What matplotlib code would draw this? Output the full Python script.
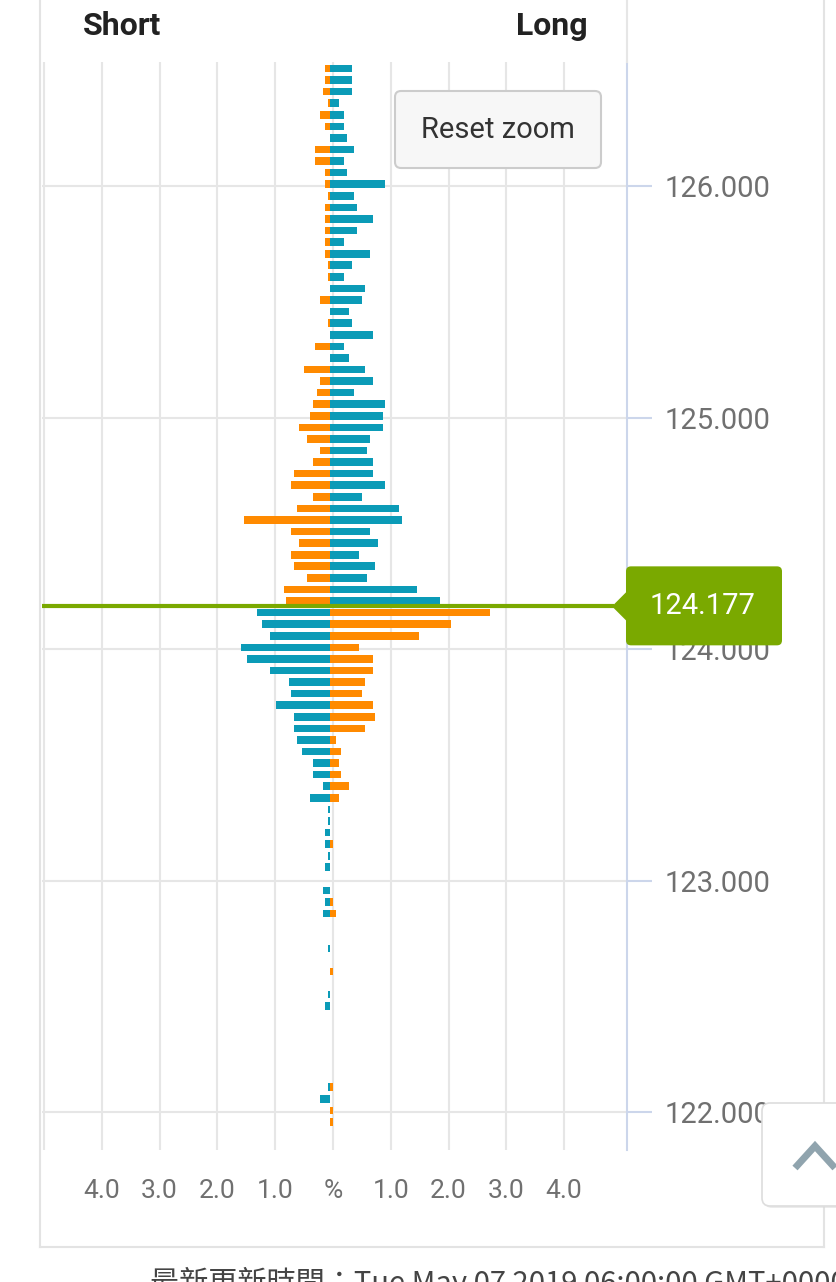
import matplotlib
matplotlib.use("Agg")
import matplotlib.pyplot as plt
from matplotlib.patches import FancyBboxPatch, Polygon
import numpy as np

# ---------------- data ----------------
prices = [126.50, 126.45, 126.40, 126.35, 126.30, 126.25, 126.20, 126.15, 126.10, 126.05,
          126.00, 125.95, 125.90, 125.85, 125.80, 125.75, 125.70, 125.65, 125.60, 125.55,
          125.50, 125.45, 125.40, 125.35, 125.30, 125.25, 125.20, 125.15, 125.10, 125.05,
          125.00, 124.95, 124.90, 124.85, 124.80, 124.75, 124.70, 124.65, 124.60, 124.55,
          124.50, 124.45, 124.40, 124.35, 124.30, 124.25, 124.20, 124.15, 124.10, 124.05,
          124.00, 123.95, 123.90, 123.85, 123.80, 123.75, 123.70, 123.65, 123.60, 123.55,
          123.50, 123.45, 123.40, 123.35, 123.30, 123.25, 123.20, 123.15, 123.10, 123.05,
          122.95, 122.90, 122.85, 122.70, 122.60, 122.50, 122.45, 122.10, 122.05, 122.00,
          121.95]
left_pct = [0.09, 0.09, 0.13, 0.04, 0.18, 0.09, 0.00, 0.27, 0.27, 0.09,
            0.09, 0.04, 0.09, 0.09, 0.09, 0.09, 0.09, 0.04, 0.04, 0.00,
            0.18, 0.00, 0.05, 0.00, 0.27, 0.00, 0.46, 0.18, 0.23, 0.31,
            0.36, 0.54, 0.40, 0.18, 0.31, 0.63, 0.68, 0.31, 0.58, 1.50,
            0.68, 0.54, 0.68, 0.63, 0.40, 0.81, 0.77, 1.27, 1.18, 1.04,
            1.54, 1.45, 1.04, 0.72, 0.68, 0.95, 0.63, 0.63, 0.58, 0.50,
            0.31, 0.31, 0.13, 0.36, 0.04, 0.04, 0.09, 0.09, 0.04, 0.10,
            0.13, 0.09, 0.13, 0.05, 0.00, 0.05, 0.10, 0.05, 0.18, 0.00,
            0.00]
right_pct = [0.37, 0.37, 0.37, 0.14, 0.23, 0.23, 0.28, 0.41, 0.23, 0.28,
             0.95, 0.41, 0.46, 0.73, 0.46, 0.23, 0.68, 0.37, 0.23, 0.59,
             0.55, 0.32, 0.37, 0.73, 0.23, 0.32, 0.59, 0.73, 0.41, 0.95,
             0.91, 0.91, 0.68, 0.64, 0.73, 0.73, 0.95, 0.55, 1.18, 1.23,
             0.68, 0.82, 0.50, 0.77, 0.64, 1.50, 1.90, 2.76, 2.09, 1.54,
             0.50, 0.73, 0.73, 0.59, 0.55, 0.73, 0.77, 0.59, 0.09, 0.18,
             0.14, 0.18, 0.32, 0.14, 0.00, 0.00, 0.00, 0.04, 0.00, 0.00,
             0.00, 0.05, 0.10, 0.00, 0.04, 0.00, 0.00, 0.05, 0.00, 0.04,
             0.04]
current_price = 124.177
current_label = "124.177"
y_ticks = [122.0, 123.0, 124.0, 125.0, 126.0]
y_tick_labels = ["122.000", "123.000", "124.000", "125.000", "126.000"]
x_grid = [-5, -4, -3, -2, -1, 0, 1, 2, 3, 4]
x_tick_labels = ["", "4.0", "3.0", "2.0", "1.0", "%", "1.0", "2.0", "3.0", "4.0"]
title_left = "Short"
title_right = "Long"
footer = "最新更新時間：Tue May 07 2019 06:00:00 GMT+0000"

# ---------------- style ----------------
TEAL = "#0b9bb7"
ORANGE = "#ff8a00"
GREEN = "#7aa900"
GRID = "#e6e6e6"
AXIS = "#ccd6eb"
LABEL = "#707070"
Y_SHIFT = 0.009
GRID_SHIFT = 0.043
BAR_H = 0.033

plt.rcParams["font.family"] = ["Roboto", "DejaVu Sans"]

W, H = 837, 1282
fig = plt.figure(figsize=(W / 100, H / 100), dpi=100)
fig.patch.set_facecolor("white")

ax = fig.add_axes([42 / W, 1 - 1150 / H, 585 / W, 1088 / H])
ax.set_xlim(-4.991, 5.130)
ax.set_ylim(121.838, 126.537)
for s in ["top", "left", "bottom"]:
    ax.spines[s].set_visible(False)
ax.spines["right"].set_color(AXIS)
ax.spines["right"].set_linewidth(1.5)

ax.set_xticks([g + GRID_SHIFT for g in x_grid])
ax.set_xticklabels(x_tick_labels)
ax.tick_params(axis="x", length=0, pad=21, labelsize=19, labelcolor=LABEL)
ax.yaxis.tick_right()
ax.set_yticks(y_ticks)
ax.set_yticklabels(y_tick_labels)
ax.tick_params(axis="y", length=18, width=1.5, color=AXIS, pad=9, labelsize=21,
               labelcolor=LABEL)
ax.grid(True, color=GRID, lw=1.5)
ax.set_axisbelow(True)

p = np.array(prices) + Y_SHIFT
lv = np.array(left_pct)
rv = np.array(right_pct)
above = np.array(prices) > current_price
left_cols = [ORANGE if a else TEAL for a in above]
right_cols = [TEAL if a else ORANGE for a in above]
ax.barh(p, -lv, height=BAR_H, color=left_cols, edgecolor="none", zorder=3)
ax.barh(p, rv, height=BAR_H, color=right_cols, edgecolor="none", zorder=3)

# ---------------- overlay (pixel coords) ----------------
ov = fig.add_axes([0, 0, 1, 1])
ov.set_xlim(0, W)
ov.set_ylim(H, 0)
ov.axis("off")
ov.patch.set_alpha(0)

# current price line and label
fig.canvas.draw()
yc = H - ax.transData.transform((0, current_price + Y_SHIFT))[1]
ov.plot([42, 614], [yc, yc], color=GREEN, lw=3, solid_capstyle="butt", zorder=5)
ov.add_patch(FancyBboxPatch((626, yc - 40), 156, 79,
                            boxstyle="round,pad=0,rounding_size=5",
                            fc=GREEN, ec="none", zorder=6))
ov.add_patch(Polygon([[612, yc], [627, yc - 15], [627, yc + 15]], closed=True,
                     fc=GREEN, ec="none", zorder=6))
ov.text(703, yc, current_label, color="white", fontsize=21, ha="center",
        va="center", zorder=7)

# titles
ov.text(83, 26, title_left, fontsize=23, fontweight="bold",
        color="#222222", ha="left", va="center")
ov.text(588, 26, title_right, fontsize=23, fontweight="bold",
        color="#222222", ha="right", va="center")

# reset zoom button
ov.add_patch(FancyBboxPatch((395, 91), 206, 77,
                            boxstyle="round,pad=0,rounding_size=6",
                            fc="#f7f7f7", ec="#cccccc", lw=1.5, zorder=6))
ov.text(498, 130, "Reset zoom", fontsize=21, color="#333333", ha="center",
        va="center", zorder=7)

# container border
ov.plot([40, 40], [0, 1247], color="#e3e3e3", lw=1.5, zorder=1)
ov.plot([40, 824], [1247, 1247], color="#e3e3e3", lw=1.5, zorder=1)
ov.plot([824, 824], [0, 1247], color="#e3e3e3", lw=1.5, zorder=1)
ov.plot([627, 627], [0, 62], color=GRID, lw=1.5, zorder=1)

# scroll-to-top button
ov.add_patch(FancyBboxPatch((764, 1106), 100, 102,
                            boxstyle="round,pad=0,rounding_size=8",
                            fc="#d9d9d9", ec="none", alpha=0.5, zorder=7))
ov.add_patch(FancyBboxPatch((762, 1103), 100, 103,
                            boxstyle="round,pad=0,rounding_size=8",
                            fc="white", ec="#dddddd", lw=1.2, zorder=8))
ov.plot([795, 815, 835], [1168, 1146, 1168], color="#90a4ae", lw=5,
        solid_capstyle="butt", solid_joinstyle="miter", zorder=9)

# footer (cut at the bottom edge, as in the reference)
ov.text(150, 1267, footer, fontsize=21, color="#444444", ha="left", va="top",
        family=["Noto Sans CJK TC", "DejaVu Sans"], zorder=2)

fig.savefig("out.png", dpi=100, facecolor="white")
